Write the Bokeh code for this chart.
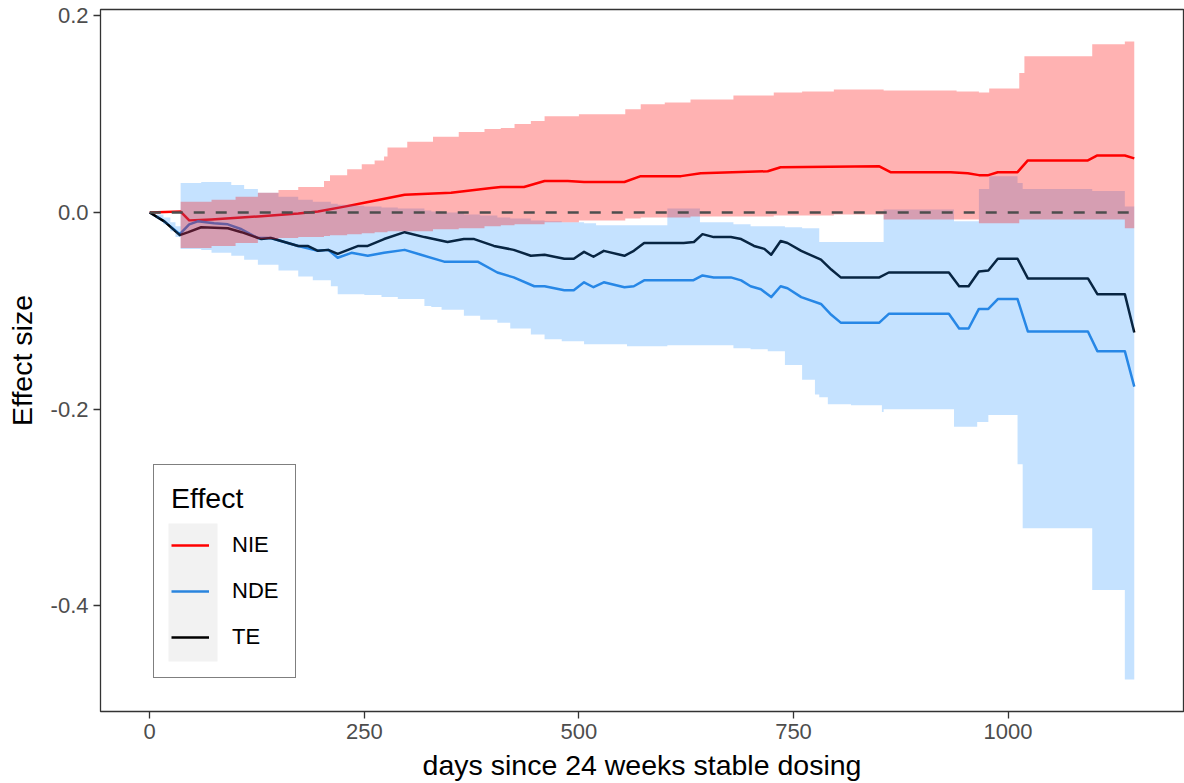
from bokeh.plotting import figure
from bokeh.models import (Range1d, FixedTicker, NumeralTickFormatter, Legend,
                          LegendItem, BoxAnnotation)
from bokeh.embed import file_html
from bokeh.resources import INLINE

FONT = "Liberation Sans"

# ---------------- data ----------------
nie_x = [0, 36, 46, 72, 126, 173, 196, 227, 250, 297, 351, 398, 409, 436, 460, 487, 506, 553,
         572, 619, 642, 720, 735, 850, 863, 933, 953, 966, 977, 988, 1011, 1023, 1093, 1104,
         1136, 1147]
nie_y = [0, 0.001, -0.008, -0.007, -0.004, -0.001, 0.001, 0.006, 0.010, 0.018, 0.020, 0.025,
         0.026, 0.026, 0.032, 0.032, 0.031, 0.031, 0.037, 0.037, 0.040, 0.042, 0.046, 0.047,
         0.041, 0.041, 0.040, 0.038, 0.038, 0.041, 0.041, 0.053, 0.053, 0.058, 0.058, 0.055]

nde_x = [0, 17, 35, 46, 56, 75, 91, 107, 126, 141, 173, 196, 208, 219, 235, 254, 273, 297, 316,
         343, 382, 405, 424, 448, 460, 483, 494, 506, 517, 529, 553, 564, 576, 633, 644, 657,
         677, 689, 700, 712, 724, 735, 743, 759, 782, 794, 805, 850, 861, 931, 943, 954, 966,
         977, 988, 1011, 1023, 1093, 1104, 1136, 1147]
nde_y = [0, -0.009, -0.022, -0.012, -0.009, -0.011, -0.012, -0.017, -0.026, -0.026, -0.034,
         -0.039, -0.038, -0.046, -0.041, -0.044, -0.041, -0.038, -0.043, -0.050, -0.050, -0.061,
         -0.066, -0.075, -0.075, -0.079, -0.079, -0.071, -0.076, -0.071, -0.076, -0.075, -0.069,
         -0.069, -0.064, -0.066, -0.066, -0.069, -0.075, -0.078, -0.086, -0.075, -0.077, -0.086,
         -0.093, -0.104, -0.112, -0.112, -0.103, -0.103, -0.118, -0.118, -0.098, -0.098, -0.088,
         -0.088, -0.121, -0.121, -0.141, -0.141, -0.177]

te_x = [0, 17, 35, 45, 60, 91, 107, 130, 141, 173, 184, 196, 208, 219, 243, 254, 273, 297, 320,
        347, 366, 378, 401, 424, 444, 460, 483, 494, 506, 517, 529, 553, 564, 576, 622, 634,
        644, 657, 677, 689, 704, 716, 724, 735, 743, 759, 782, 794, 805, 850, 861, 931, 943,
        954, 966, 977, 988, 1011, 1023, 1093, 1104, 1136, 1147]
te_y = [0, -0.009, -0.023, -0.020, -0.015, -0.016, -0.020, -0.027, -0.026, -0.034, -0.034,
        -0.039, -0.038, -0.042, -0.034, -0.034, -0.027, -0.020, -0.025, -0.030, -0.027, -0.027,
        -0.034, -0.038, -0.044, -0.043, -0.047, -0.047, -0.040, -0.045, -0.039, -0.044, -0.039,
        -0.031, -0.031, -0.030, -0.022, -0.025, -0.025, -0.027, -0.034, -0.037, -0.043, -0.029,
        -0.031, -0.039, -0.048, -0.058, -0.066, -0.066, -0.061, -0.061, -0.075, -0.075, -0.060,
        -0.059, -0.047, -0.047, -0.067, -0.067, -0.083, -0.083, -0.122]

# confidence bands (step functions)
nie_band_x = [0, 36, 72, 100, 126, 150, 173, 203, 210, 230, 247, 262, 273, 277, 300, 330, 360,
              390, 409, 425, 444, 460, 500, 554, 572, 600, 630, 680, 727, 760, 797, 855, 940,
              966, 978, 1013, 1019, 1098, 1136, 1147]
nie_hi = [0, 0.011, 0.013, 0.016, 0.020, 0.023, 0.026, 0.032, 0.038, 0.044, 0.049, 0.053, 0.057,
          0.066, 0.072, 0.077, 0.082, 0.085, 0.086, 0.090, 0.093, 0.098, 0.100, 0.105, 0.110,
          0.112, 0.115, 0.119, 0.122, 0.123, 0.125, 0.124, 0.123, 0.122, 0.126, 0.142, 0.159,
          0.171, 0.174, 0.174]
nie_lo = [0, -0.036, -0.034, -0.031, -0.027, -0.026, -0.025, -0.024, -0.023, -0.022, -0.021,
          -0.020, -0.020, -0.019, -0.019, -0.017, -0.016, -0.014, -0.013, -0.012, -0.012, -0.010,
          -0.008, -0.006, -0.005, -0.005, -0.004, -0.004, -0.003, -0.003, -0.002, -0.007, -0.007,
          -0.011, -0.011, -0.007, -0.007, -0.007, -0.016, -0.016]

nde_band_x = [0, 8, 16, 24, 30, 36, 60, 72, 95, 110, 126, 150, 173, 190, 211, 219, 240, 250,
              270, 289, 320, 328, 340, 366, 385, 405, 420, 444, 460, 480, 506, 520, 556, 603,
              641, 680, 700, 720, 740, 760, 775, 780, 790, 817, 853, 855, 937, 964, 966, 977,
              978, 1011, 1017, 1098, 1136, 1147]
nde_lo = [0, -0.006, -0.012, -0.019, -0.025, -0.037, -0.038, -0.041, -0.044, -0.048, -0.053,
          -0.059, -0.065, -0.069, -0.075, -0.083, -0.083, -0.084, -0.086, -0.088, -0.095, -0.096,
          -0.099, -0.105, -0.109, -0.112, -0.118, -0.124, -0.129, -0.131, -0.134, -0.134, -0.136,
          -0.135, -0.135, -0.138, -0.139, -0.141, -0.155, -0.170, -0.185, -0.188, -0.195, -0.196,
          -0.203, -0.200, -0.218, -0.213, -0.213, -0.206, -0.206, -0.256, -0.321, -0.384, -0.475,
          -0.475]
nde_hi = [0, -0.002, -0.005, -0.010, -0.014, 0.030, 0.031, 0.031, 0.028, 0.024, 0.020, 0.016,
          0.013, 0.011, 0.009, 0.008, 0.007, 0.006, 0.005, 0.004, 0.002, 0.001, 0.000,
          -0.002, -0.003, -0.005, -0.006, -0.008, -0.009, -0.010, -0.011, -0.013, -0.013, 0.004,
          -0.010, -0.012, -0.014, -0.014, -0.015, -0.016, -0.016, -0.030, -0.030, -0.030, -0.030,
          0.003, -0.009, -0.009, 0.024, 0.024, 0.037, 0.030, 0.024, 0.022, 0.006, 0.006]

effects = ["NIE", "NDE", "TE"]
x_ticks = [0, 250, 500, 750, 1000]
y_ticks = [-0.4, -0.2, 0.0, 0.2]

# ---------------- ranges (ggplot-like 5% expansion) ----------------
all_x = nie_x + nde_x + te_x + nie_band_x + nde_band_x
all_y = nie_y + nde_y + te_y + nie_hi + nie_lo + nde_hi + nde_lo
x0, x1 = min(all_x), max(all_x)
y0, y1 = min(all_y), max(all_y)
dx = (x1 - x0) * 0.05
dy = (y1 - y0) * 0.05

p = figure(width=1184, height=783, output_backend="svg", toolbar_location=None,
           x_range=Range1d(x0 - dx, x1 + dx), y_range=Range1d(y0 - dy, y1 + dy),
           min_border_left=100, min_border_right=1, min_border_top=9, min_border_bottom=71)
p.background_fill_color = "white"
p.border_fill_color = "white"
p.outline_line_color = "#333333"
p.outline_line_width = 1.3
p.xgrid.visible = False
p.ygrid.visible = False

# lines (drawn under the ribbons, as in the original)
r_nie = p.line(nie_x, nie_y, line_color="#FF0000", line_width=2.5, line_join="round")
r_nde = p.line(nde_x, nde_y, line_color="#2A85DE", line_width=2.5, line_join="round")
r_te = p.line(te_x, te_y, line_color="#000000", line_width=2.5, line_join="round")

# ribbons
p.varea_step(x=nde_band_x, y1=nde_lo, y2=nde_hi, step_mode="after",
             fill_color="#1E90FF", fill_alpha=0.26)
p.varea_step(x=nie_band_x, y1=nie_lo, y2=nie_hi, step_mode="after",
             fill_color="#FF0000", fill_alpha=0.3)

# zero reference line over the data span
p.line([min(te_x), max(te_x)], [0, 0], line_color="#4D4D4D", line_width=2.5,
       line_dash="11 11")

# axes
for ax in (p.xaxis[0], p.yaxis[0]):
    ax.axis_line_color = None
    ax.major_tick_line_color = "#333333"
    ax.major_tick_line_width = 1.3
    ax.major_tick_out = 7
    ax.major_tick_in = 0
    ax.minor_tick_line_color = None
    ax.major_label_text_font = FONT
    ax.major_label_text_font_size = "22px"
    ax.major_label_text_color = "#4D4D4D"
    ax.axis_label_text_font = FONT
    ax.axis_label_text_font_size = "28.5px"
    ax.axis_label_text_font_style = "normal"
    ax.axis_label_text_color = "#000000"

p.xaxis[0].ticker = FixedTicker(ticks=x_ticks)
p.yaxis[0].ticker = FixedTicker(ticks=y_ticks)
p.yaxis[0].formatter = NumeralTickFormatter(format="0.0")
p.xaxis[0].axis_label = "days since 24 weeks stable dosing"
p.yaxis[0].axis_label = "Effect size"
p.xaxis[0].major_label_standoff = 5
p.xaxis[0].axis_label_standoff = 7
p.yaxis[0].major_label_standoff = 5
p.yaxis[0].axis_label_standoff = 10

# legend
lx, ly = 53, 33
pad, gw, gh = 17, 38, 46
legend = Legend(
    items=[LegendItem(label=effects[0], renderers=[r_nie]),
           LegendItem(label=effects[1], renderers=[r_nde]),
           LegendItem(label=effects[2], renderers=[r_te])],
    location=(lx, ly), title="Effect",
    title_text_font=FONT, title_text_font_size="28.5px", title_text_font_style="normal",
    title_text_color="#000000", title_standoff=7,
    label_text_font=FONT, label_text_font_size="22px", label_text_color="#000000",
    glyph_width=gw, glyph_height=gh, label_height=gh, label_standoff=23,
    spacing=0, padding=pad, margin=0,
    border_line_color="#000000", border_line_width=1.2,
    background_fill_alpha=0,
)
key_bg = BoxAnnotation(left=lx + pad - 2, right=lx + pad + gw + 9,
                       bottom=ly + pad, top=ly + pad + 3 * gh,
                       left_units="screen", right_units="screen",
                       bottom_units="screen", top_units="screen",
                       fill_color="#F2F2F2", fill_alpha=1.0, line_color=None,
                       level="underlay")
p.add_layout(key_bg)
p.add_layout(legend, "center")

open("out.html", "w").write(file_html(p, INLINE))
